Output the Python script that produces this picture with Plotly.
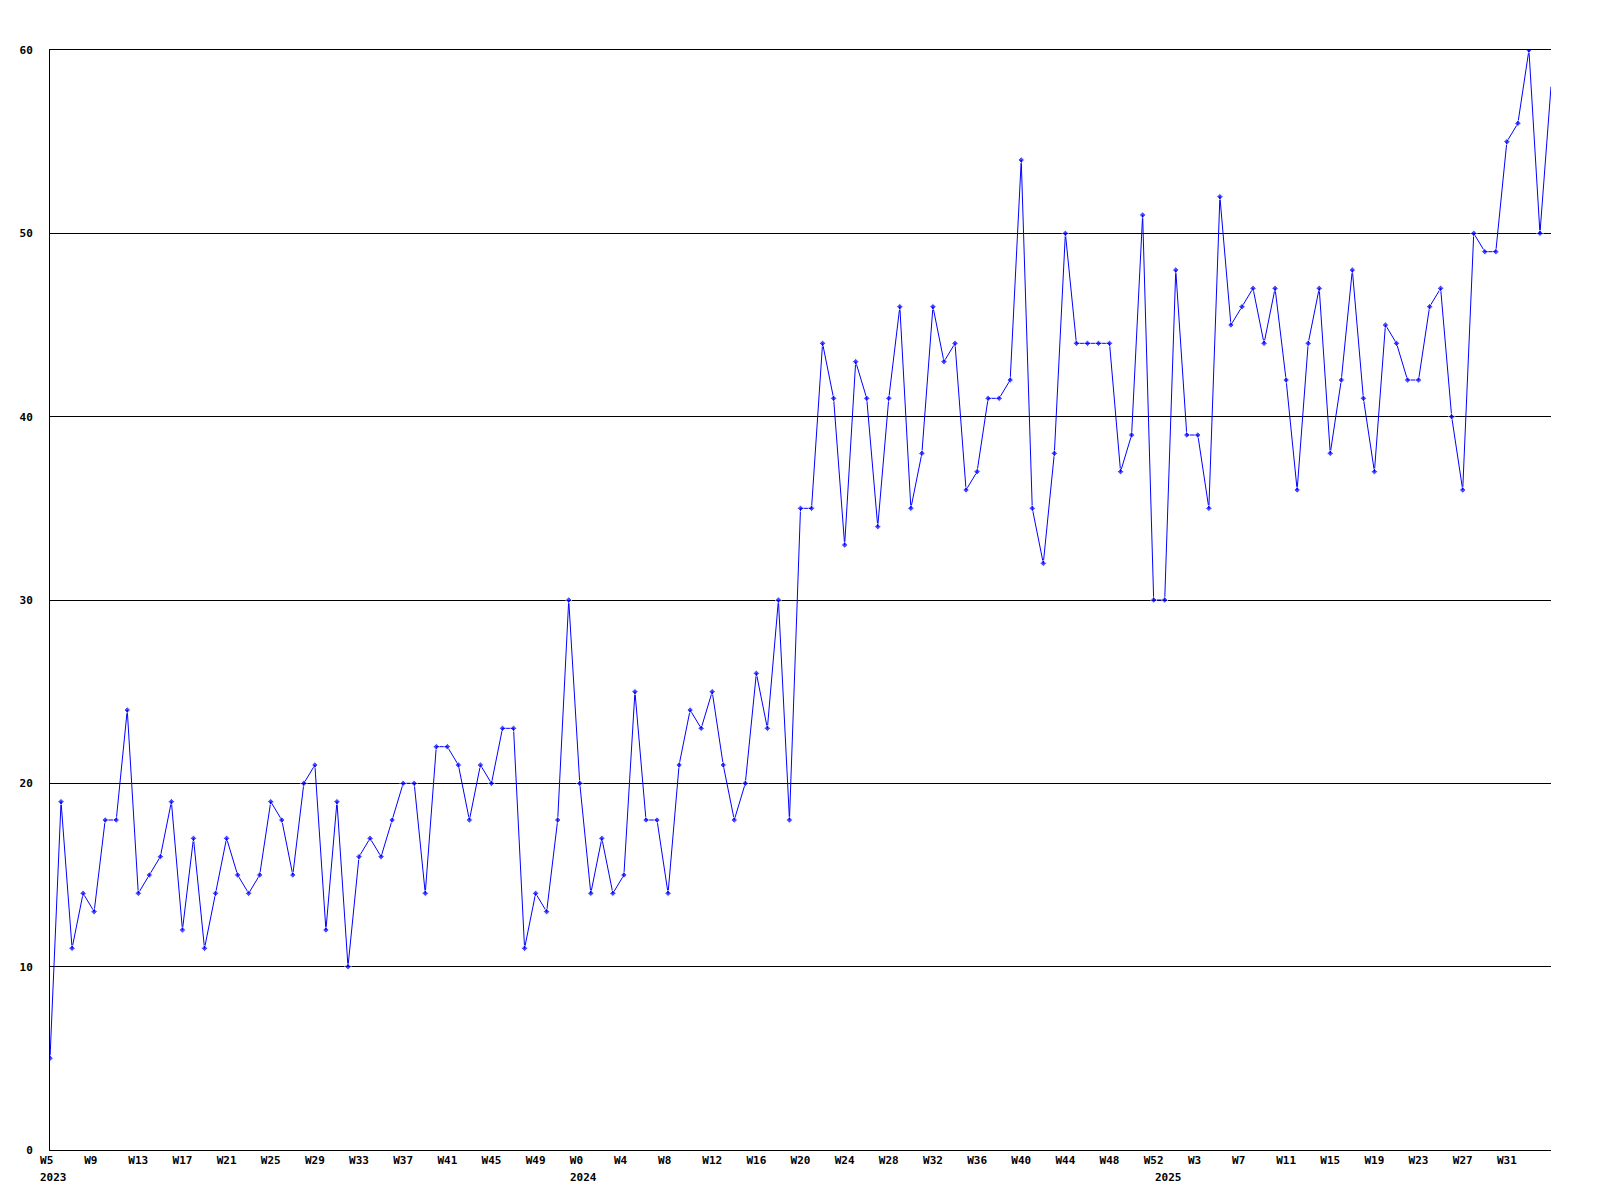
import plotly.graph_objects as go

# ---- data -------------------------------------------------------------
years = [2023, 2024, 2025]
first_week = [5, 0, 0]
last_week = [52, 52, 35]

values = [
    5, 19, 11, 14, 13, 18, 18, 24, 14, 15,
    16, 19, 12, 17, 11, 14, 17, 15, 14, 15,
    19, 18, 15, 20, 21, 12, 19, 10, 16, 17,
    16, 18, 20, 20, 14, 22, 22, 21, 18, 21,
    20, 23, 23, 11, 14, 13, 18, 30, 20, 14,
    17, 14, 15, 25, 18, 18, 14, 21, 24, 23,
    25, 21, 18, 20, 26, 23, 30, 18, 35, 35,
    44, 41, 33, 43, 41, 34, 41, 46, 35, 38,
    46, 43, 44, 36, 37, 41, 41, 42, 54, 35,
    32, 38, 50, 44, 44, 44, 44, 37, 39, 51,
    30, 30, 48, 39, 39, 35, 52, 45, 46, 47,
    44, 47, 42, 36, 44, 47, 38, 42, 48, 41,
    37, 45, 44, 42, 42, 46, 47, 40, 36, 50,
    49, 49, 55, 56, 60, 50, 58,
]

y_ticks = [0, 10, 20, 30, 40, 50, 60]

# ---- derived categories -------------------------------------------------
weeks = []      # (year, week) for every point
for yr, w0, w1 in zip(years, first_week, last_week):
    for w in range(w0, w1 + 1):
        weeks.append((yr, w))
x = list(range(len(weeks)))

tick_idx = [i for i in x[::4] if i <= 132]
tick_text = [("W%d" % weeks[i][1]).ljust(3, "\u00a0") for i in tick_idx]

year_idx = []
for yr in years:
    year_idx.append(next(i for i, (y_, w) in enumerate(weeks) if y_ == yr))

BLUE = "#0000ff"
FONT = dict(family="DejaVu Sans Mono", size=11, color="black", weight="bold")

marker_sizes = [5] * (len(values) - 1) + [0]

fig = go.Figure()
fig.add_trace(go.Scatter(
    x=x, y=values, mode="lines+markers",
    line=dict(color=BLUE, width=1),
    marker=dict(symbol="diamond", size=marker_sizes, color=BLUE),
    hoverinfo="skip", showlegend=False,
))

for i in year_idx:
    fig.add_annotation(
        x=i, xref="x", y=0, yref="paper",
        text=str(weeks[i][0]), showarrow=False,
        xanchor="left", yanchor="middle", xshift=-12, yshift=-27,
        font=FONT,
    )

fig.update_layout(
    width=1584, height=1184,
    margin=dict(l=42, r=41, t=42, b=42),
    paper_bgcolor="white", plot_bgcolor="white",
    xaxis=dict(
        range=[0, len(x) - 1], automargin=False,
        tickvals=tick_idx, ticktext=tick_text,
        tickfont=FONT, ticks="", showgrid=False, zeroline=False,
        showline=True, mirror=True, linecolor="black", linewidth=1,
    ),
    yaxis=dict(
        range=[0, 60], automargin=False,
        tickvals=y_ticks,
        ticktext=[str(v).rjust(2, "\u00a0") for v in y_ticks],
        tickfont=FONT, ticks="", ticklabelstandoff=14,
        showgrid=True, gridcolor="black", gridwidth=1,
        zeroline=False,
        showline=True, linecolor="black", linewidth=1,
    ),
)

fig.write_html("out.html")
